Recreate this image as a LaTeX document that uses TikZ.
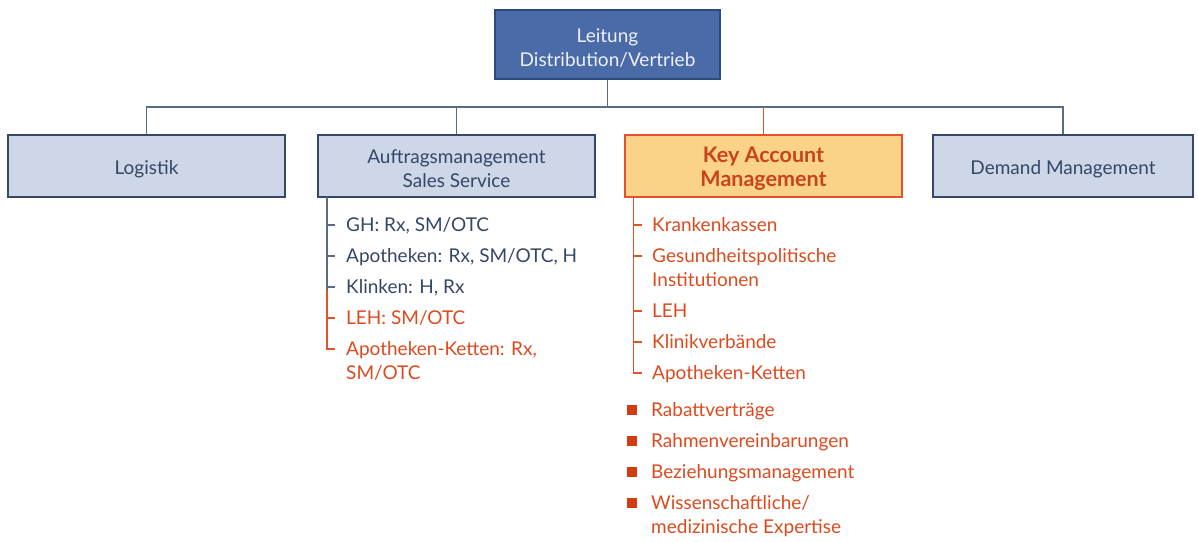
\documentclass[tikz,border=0pt]{standalone}
\usepackage{fontspec}
\setmainfont{Lato}
\definecolor{topfill}{HTML}{4B6AA8}
\definecolor{topline}{HTML}{2C4A80}
\definecolor{topText}{HTML}{EEF1F7}
\definecolor{boxfill}{HTML}{CDD7E8}
\definecolor{boxline}{HTML}{35486A}
\definecolor{navy}{HTML}{344766}
\definecolor{kamfill}{HTML}{FAD288}
\definecolor{kamline}{HTML}{E2532B}
\definecolor{kamtext}{HTML}{C9441C}
\definecolor{rust}{HTML}{DC4A1E}
\definecolor{bullet}{HTML}{D23C12}
\definecolor{wire}{HTML}{5A6B88}
\begin{document}
\begin{tikzpicture}[x=1pt,y=-1pt,
  font=\fontsize{19}{24}\selectfont,
  unit/.style={draw=boxline,fill=boxfill,line width=2.8pt,minimum height=62pt,inner sep=0pt},
  topbox/.style={draw=topline,fill=topfill,line width=1.8pt,minimum width=225pt,
    minimum height=69pt,inner sep=0pt},
  kambox/.style={draw=kamline,fill=kamfill,line width=2.8pt,minimum height=62pt,
    minimum width=277pt,inner sep=0pt},
  boxtext/.style={align=center,inner sep=0pt,yshift=-3pt,text=navy},
  wireB/.style={draw=wire,line width=1.5pt},
  wireO/.style={draw=kamline,line width=1.5pt},
  itemB/.style={anchor=base west,inner sep=0pt,text=navy},
  itemO/.style={anchor=base west,inner sep=0pt,text=rust},
  sq/.style={fill=bullet,minimum width=10.5pt,minimum height=10pt,inner sep=0pt}]
\useasboundingbox (0,0) rectangle (1198,541);

% top box and the four departments
\node[topbox] (top) at (607.5,44.5) {};
\node[unit,minimum width=277pt] (log) at (146.5,166) {};
\node[unit,minimum width=277pt] (auf) at (456.5,166) {};
\node[kambox] (kam) at (763.5,166) {};
\node[unit,minimum width=260pt] (dem) at (1063,166) {};

\node[boxtext,text=topText] (topT) at (top.center) {Leitung\\Distribution/Vertrieb};
\node[boxtext] (logT) at (log.center) {Logistik};
\node[boxtext] (aufT) at (auf.center) {Auftragsmanagement\\Sales Service};
\node[boxtext,text=kamtext,font=\fontsize{21.5}{24}\selectfont\bfseries] (kamT) at (kam.center) {Key Account\\Management};
\node[boxtext] (demT) at (dem.center) {Demand Management};

% organisation wiring
\coordinate (bus) at (607.5,107);
\draw[wireB] (top.south) -- (bus);
\draw[wireB] (log.north) |- (bus) -| (dem.north);
\draw[wireB] (auf.north) -- (auf.north |- bus);
\draw[wireO] (kam.north) -- (kam.north |- bus);

% Auftragsmanagement list
\node[itemB] (a1) at (346,231) {GH: Rx, SM/OTC};
\node[itemB] (a2) at (346,262) {Apotheken: Rx, SM/OTC, H};
\node[itemB] (a3) at (346,293) {Klinken: H, Rx};
\node[itemO] (a4) at (346,324) {LEH: SM/OTC};
\node[itemO] (a5) at (346,355) {Apotheken-Ketten: Rx,};
\node[itemO] (a6) at (346,379) {SM/OTC};
\foreach \n in {a1,a2,a3,a4,a5}
  \coordinate (t\n) at ([yshift=6pt]\n.base west);
\coordinate (atop) at (327,197);
\coordinate (amid) at (327,290);
\draw[wireB] (atop) -- (amid);
\foreach \n in {a1,a2,a3}
  \draw[wireB] ([xshift=-11pt]t\n) -- (atop |- t\n);
\draw[wireO] (amid) -- (atop |- ta5) -- ([xshift=-11pt]ta5);
\draw[wireO] ([xshift=-11pt]ta4) -- (atop |- ta4);

% Key Account list
\node[itemO] (k1) at (652,231) {Krankenkassen};
\node[itemO] (k2) at (652,262) {Gesundheitspolitische};
\node[itemO] (k2b) at (652,286) {Institutionen};
\node[itemO] (k3) at (652,317) {LEH};
\node[itemO] (k4) at (652,348) {Klinikverbände};
\node[itemO] (k5) at (652,379) {Apotheken-Ketten};
\foreach \n in {k1,k2,k3,k4,k5}
  \coordinate (t\n) at ([yshift=6pt]\n.base west);
\coordinate (ktop) at (633.5,197);
\draw[wireO] (ktop) -- (ktop |- tk5) -- ([xshift=-10pt]tk5);
\foreach \n in {k1,k2,k3,k4}
  \draw[wireO] ([xshift=-10pt]t\n) -- (ktop |- t\n);

% bullet list
\foreach \y/\t [count=\i] in {416/{Rabattverträge},447/{Rahmenvereinbarungen},478/{Beziehungsmanagement},509/{Wissenschaftliche/}}{
  \node[itemO] (b\i) at (651,\y) {\t};
  \node[sq] (s\i) at (632,\y-6) {};
}
\node[itemO] (b5) at (651,533) {medizinische Expertise};
\end{tikzpicture}
\end{document}
